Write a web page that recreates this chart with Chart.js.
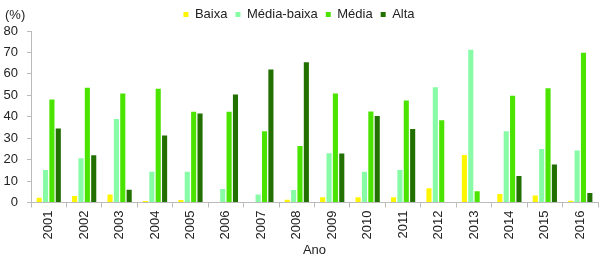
<!DOCTYPE html>
<html>
<head>
<meta charset="utf-8">
<script src="https://cdn.jsdelivr.net/npm/chart.js@4/dist/chart.umd.min.js"></script>
<style>
html,body{margin:0;padding:0;background:#fff;}
#c{display:block;}
</style>
</head>
<body>
<canvas id="c" width="605" height="259"></canvas>
<script>
const years = ["2001","2002","2003","2004","2005","2006","2007","2008","2009","2010","2011","2012","2013","2014","2015","2016"];
const baixa      = [2.2, 3.0, 3.7, 0.7, 1.2, 0,   0,   1.3, 2.4, 2.4, 2.4, 6.6, 22.2, 4.0, 3.2, 0.8];
const mediaBaixa = [15.2, 20.6, 38.9, 14.3, 14.3, 6.3, 3.7, 5.8, 23.0, 14.3, 15.2, 53.8, 71.2, 33.2, 25.0, 24.2];
const media      = [48.0, 53.5, 50.8, 53.0, 42.3, 42.3, 33.2, 26.4, 50.8, 42.5, 47.6, 38.4, 5.2, 49.8, 53.3, 69.8];
const alta       = [34.5, 22.0, 5.9, 31.2, 41.5, 50.4, 62.0, 65.4, 22.8, 40.4, 34.3, 0, 0, 12.4, 17.7, 4.4];
const yTicks = [0,10,20,30,40,50,60,70,80];

const font = "Arial, 'Liberation Sans', sans-serif";
const pctLabel = {
  id: 'pctLabel',
  afterDraw(chart) {
    const ctx = chart.ctx;
    ctx.save();
    ctx.font = "13px " + font;
    ctx.fillStyle = "#222";
    ctx.textBaseline = "middle";
    ctx.textAlign = "left";
    ctx.fillText("(%)", 5, 15);
    ctx.restore();
  }
};

const ds = (label, data, color) => ({label, data, backgroundColor: color, borderWidth: 0, categoryPercentage: 0.72, barPercentage: 0.8});

new Chart(document.getElementById('c'), {
  type: 'bar',
  data: {
    labels: years,
    datasets: [
      ds("Baixa", baixa, "#FFF500"),
      ds("Média-baixa", mediaBaixa, "#88FBA6"),
      ds("Média", media, "#4BE300"),
      ds("Alta", alta, "#217000")
    ]
  },
  options: {
    responsive: false,
    animation: false,
    layout: {padding: {left: 0, right: 7, top: 0, bottom: 1}},
    plugins: {
      tooltip: {enabled: false},
      legend: {
        position: 'top',
        align: 'center',
        labels: {
          boxWidth: 5, boxHeight: 5, padding: 8,
          color: "#222",
          font: {family: font, size: 13}
        }
      }
    },
    scales: {
      x: {
        grid: {display: true, drawOnChartArea: false, drawTicks: true, tickLength: 5, color: "#bbb", offset: true},
        border: {display: true, color: "#bbb"},
        ticks: {color: "#222", font: {family: font, size: 13}, maxRotation: 90, minRotation: 90, padding: 3},
        title: {display: true, text: "Ano", color: "#222", font: {family: font, size: 13}, padding: {top: 0, bottom: 0}}
      },
      y: {
        min: 0, max: 80,
        afterBuildTicks(axis) { axis.ticks = yTicks.map(v => ({value: v})); },
        afterFit(axis) { axis.width = 31; },
        grid: {display: true, drawOnChartArea: false, drawTicks: true, tickLength: 4, color: "#bbb"},
        border: {display: true, color: "#bbb"},
        ticks: {color: "#222", font: {family: font, size: 13}, padding: 9}
      }
    }
  },
  plugins: [pctLabel]
});
</script>
</body>
</html>
